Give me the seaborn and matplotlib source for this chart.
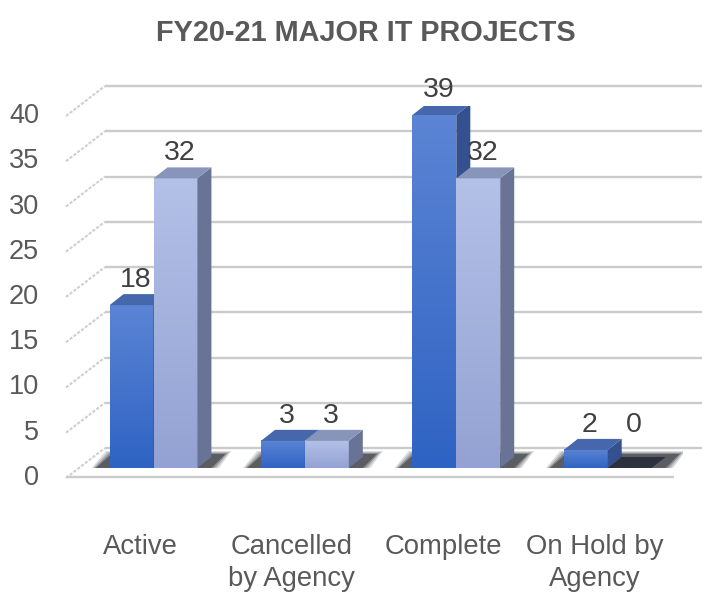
import numpy as np
import pandas as pd
import matplotlib.pyplot as plt
import seaborn as sns
from matplotlib.patches import Polygon
from matplotlib.transforms import ScaledTranslation, IdentityTransform, blended_transform_factory
from matplotlib.colors import LinearSegmentedColormap

# chart data
categories = ['Active', 'Cancelled\nby Agency', 'Complete', 'On Hold by\nAgency']
series_names = ['Series 1', 'Series 2']
series_1 = [18, 3, 39, 2]
series_2 = [32, 3, 32, 0]
y_ticks = [0, 5, 10, 15, 20, 25, 30, 35, 40]
title = 'FY20-21 MAJOR IT PROJECTS'

sns.set_style('white')
plt.rcParams['font.family'] = ['Liberation Sans', 'DejaVu Sans']

df = pd.DataFrame({
    'category': categories * 2,
    'series': [series_names[0]] * len(categories) + [series_names[1]] * len(categories),
    'value': series_1 + series_2,
})

# colours: (front top, front bottom, side, top)
dark = ('#5b84d4', '#2f63c3', '#34508f', '#4767ad')
light = ('#b3c1e8', '#93a2d2', '#687395', '#8895ba')
text_grey = '#595959'
grid_grey = '#cbcbcb'

fig = plt.figure(figsize=(7.02, 5.92), dpi=100)
# axes = front plane of the bars
ax = fig.add_axes([77.8 / 702, 124 / 592, 605.6 / 702, 362 / 592])
sns.barplot(data=df, x='category', y='value', hue='series', order=categories,
            palette=[dark[1], light[1]], width=0.58, saturation=1, legend=False,
            ax=ax, zorder=3)
ax.set_xlim(-0.5, 3.5)
ax.set_ylim(0, 40)
ax.axis('off')


def shift(dx, dy):
    """pixel offset transform"""
    return ScaledTranslation(dx / 100, dy / 100, fig.dpi_scale_trans)


p0 = ax.transData.transform((0, 0))
p1 = ax.transData.transform((1, 1))
ppx = p1[0] - p0[0]   # pixels per category
ppy = p1[1] - p0[1]   # pixels per value unit
px_y = blended_transform_factory(IdentityTransform(), ax.transData)

# walls: back gridlines + dotted side wall + floor front edge
for v in y_ticks:
    ax.plot([105, 702], [v + 20 / ppy, v + 20 / ppy], transform=px_y, color=grid_grey,
            lw=1.7, zorder=1, clip_on=False, solid_capstyle='butt')
    ax.plot([66, 105], [v - 10 / ppy, v + 20 / ppy], transform=px_y, color='#cfcfcf',
            lw=1.5, ls=(0, (1.5, 0.8)), zorder=1, clip_on=False)
    ax.text(39, v, str(v), transform=px_y + shift(0, -10), ha='right', va='center',
            fontsize=19.5, color=text_grey)
ax.plot([66, 674], [-9 / ppy, -9 / ppy], transform=px_y, color=grid_grey, lw=1.7,
        zorder=1, clip_on=False, solid_capstyle='butt')

dx = 14 / ppx
dy = 11 / ppy
n = len(categories)
bars = list(ax.patches)

# soft shadows on the floor under each pair
for i in range(n):
    a, b = bars[i], bars[i + n]
    x0 = a.get_x()
    x1 = b.get_x() + b.get_width()
    for k, alpha in enumerate([0.15, 0.2, 0.28, 0.45]):
        g = 3 - k
        pts = [(x0 - (16 + 2 * g) / ppx, -(2 + g) / ppy),
               (x1 + (12 + 2 * g) / ppx, -(2 + g) / ppy),
               (x1 + dx + (14 + 2 * g) / ppx, (14 + g) / ppy),
               (x0 + (2 - 2 * g) / ppx, (14 + g) / ppy)]
        ax.add_patch(Polygon(pts, closed=True, facecolor='#1f222a', edgecolor='none',
                             alpha=alpha, zorder=2))

# 3d faces of every bar
for j, p in enumerate(bars):
    cols = dark if j < n else light
    z = 3 + (j // n) + 0.01 * j
    x0 = p.get_x()
    w = p.get_width()
    x1 = x0 + w
    h = p.get_height()
    p.set_visible(False)
    if h > 0:
        cmap = LinearSegmentedColormap.from_list('g', [cols[1], cols[0]])
        grad = np.linspace(1, 0, 64).reshape(-1, 1)
        ax.imshow(grad, extent=(x0, x1, 0, h), cmap=cmap, aspect='auto',
                  interpolation='bilinear', zorder=z)
        ax.add_patch(Polygon([(x1, 0), (x1 + dx, dy), (x1 + dx, h + dy), (x1, h)],
                             facecolor=cols[2], edgecolor='none', zorder=z))
        top_col = cols[3]
    else:
        top_col = '#2d313d'
    ax.add_patch(Polygon([(x0, h), (x1, h), (x1 + dx, h + dy), (x0 + dx, h + dy)],
                         facecolor=top_col, edgecolor='none', zorder=z))
    ax.text(x0 + w / 2 + 4 / ppx, max(h, 2) + 18 / ppy, f'{h:.0f}', ha='center',
            va='baseline', fontsize=20.5, color='#404040', zorder=6)

ax.set_xlim(-0.5, 3.5)
ax.set_ylim(0, 40)

# category labels
for i, cat in enumerate(categories):
    ax.text(i, 0, cat, transform=ax.transData + shift(-13, -66), ha='center', va='top',
            fontsize=19.8, color=text_grey, linespacing=1.32)

fig.text(366 / 702, 1 - 19 / 592, title, ha='center', va='top', fontsize=20.8,
         fontweight='bold', color=text_grey)

fig.savefig('out.png', dpi=100, facecolor='white')
